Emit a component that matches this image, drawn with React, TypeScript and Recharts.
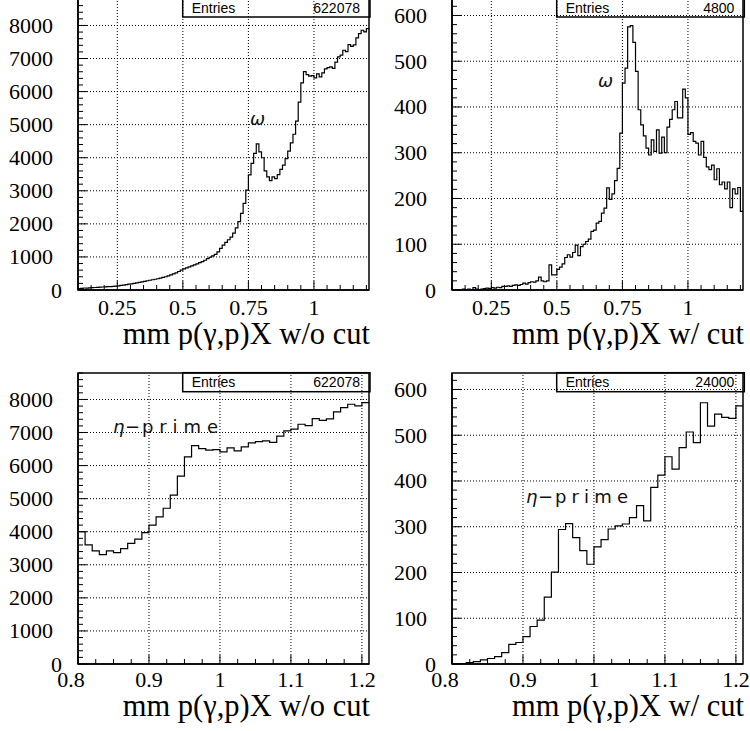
import { LineChart, Line, XAxis, YAxis, ReferenceLine, ReferenceArea } from "recharts";

// histogram binning (bin lower edges), 0.01 wide
const binWidth = 0.01;
const wideStart = 0.1;
const wideEnd = 1.21;
const zoomStart = 0.8;
const zoomEnd = 1.21;

// mm p(gamma,p)X without cut, bins 0.10 .. 0.79
const woCutHead = [
  40, 50, 60, 55, 65, 70, 75, 80, 85, 90,
  95, 100, 105, 110, 115, 125, 140, 150, 165, 175,
  185, 200, 215, 230, 245, 260, 280, 295, 310, 325,
  340, 360, 380, 400, 430, 460, 490, 520, 560, 600,
  640, 670, 700, 730, 760, 790, 830, 860, 900, 950,
  990, 1030, 1080, 1150, 1260, 1360, 1440, 1520, 1600, 1720,
  1880, 2070, 2320, 2620, 3020, 3480, 3830, 4130, 4420, 4180,
];

// same histogram, bins 0.80 .. 1.20
const woCutTail = [
  4000, 3600, 3420, 3310, 3420, 3370, 3490, 3645, 3775, 3970,
  4200, 4450, 4710, 5105, 5680, 6265, 6605, 6515, 6465, 6485,
  6415, 6535, 6445, 6565, 6685, 6725, 6745, 6705, 6890, 7050,
  7100, 7250, 7210, 7420, 7370, 7410, 7625, 7755, 7855, 7805,
  7905,
];

// with cut, bins 0.10 .. 1.20
const wCutWide = [
  0, 1, 0, 1, 2, 1, 2, 1, 5, 2,
  1, 2, 3, 4, 3, 5, 4, 6, 5, 8,
  8, 9, 8, 10, 11, 10, 12, 15, 13, 16,
  18, 17, 20, 28, 20, 18, 20, 55, 33, 33,
  45, 50, 57, 71, 77, 72, 82, 98, 75, 95,
  100, 106, 111, 128, 131, 146, 150, 168, 179, 223,
  198, 210, 239, 266, 343, 452, 485, 575, 578, 541,
  478, 394, 361, 337, 310, 295, 328, 303, 350, 299,
  334, 300, 356, 373, 394, 412, 376, 376, 439, 420,
  340, 344, 325, 321, 295, 325, 290, 269, 263, 273,
  241, 265, 230, 236, 221, 236, 180, 221, 210, 224,
  172,
];

// with cut, eta-prime region, bins 0.80 .. 1.20
const wCutZoom = [
  0, 1, 3, 5, 9, 12, 16, 25, 43, 47,
  60, 82, 96, 146, 201, 294, 307, 276, 248, 218,
  256, 272, 295, 302, 306, 320, 346, 313, 386, 413,
  453, 426, 473, 507, 484, 571, 520, 546, 539, 537,
  564,
];

const wideXMajor = [0.25, 0.5, 0.75, 1];
const zoomXMajor = [0.8, 0.9, 1, 1.1, 1.2];
const countsYMajor = [0, 1000, 2000, 3000, 4000, 5000, 6000, 7000, 8000];
const cutYMajor = [0, 100, 200, 300, 400, 500, 600];

const titleWoCut = "mm p(\u03b3,p)X w/o cut";
const titleWCut = "mm p(\u03b3,p)X w/ cut";

const serif = "'Liberation Serif', 'Times New Roman', serif";
const sans = "'Liberation Sans', Arial, sans-serif";
const thin = "'DejaVu Sans', sans-serif";

const r3 = (v: number) => Math.round(v * 1000) / 1000;

const toRows = (values: number[], start: number) => {
  const rows = values.map((v, i) => ({ x: r3(start + i * binWidth), y: v }));
  rows.push({ x: r3(start + values.length * binWidth), y: values[values.length - 1] });
  return rows;
};

const steps = (from: number, to: number, step: number) => {
  const out: number[] = [];
  for (let v = from; v <= to + 1e-9; v += step) out.push(r3(v));
  return out;
};

const XTick = (props: any) => {
  const { x, y, payload, majors, labelDy, xMin } = props;
  const v = payload.value;
  const major = majors.some((m: number) => Math.abs(m - v) < 1e-6);
  const shift = Math.abs(v - xMin) < 1e-6 ? -7 : 0;
  return (
    <g>
      <line x1={x} y1={y} x2={x} y2={y - (major ? 9 : 5)} stroke="#000" strokeWidth={1} />
      {major ? (
        <text x={x + shift} y={y + labelDy} textAnchor="middle" fontFamily={serif} fontSize={22} fill="#000">
          {String(v)}
        </text>
      ) : null}
    </g>
  );
};

const YTick = (props: any) => {
  const { x, y, payload, majors } = props;
  const v = payload.value;
  const major = majors.includes(v);
  return (
    <g>
      <line x1={x} y1={y} x2={x + (major ? 9 : 5)} y2={y} stroke="#000" strokeWidth={1} />
      {major ? (
        <text x={x - (v === 0 ? 16 : 25)} y={y + 7.5} textAnchor="end" fontFamily={serif} fontSize={22} fill="#000">
          {String(v)}
        </text>
      ) : null}
    </g>
  );
};

interface IPanel {
  values: number[];
  start: number;
  end: number;
  yMax: number;
  xMajor: number[];
  xMinorStep: number;
  yMajor: number[];
  yMinorStep: number;
  title: string;
  labelDy: number;
  titleDy: number;
  left: number;
  top: number;
}

const Panel = ({
  values,
  start,
  end,
  yMax,
  xMajor,
  xMinorStep,
  yMajor,
  yMinorStep,
  title,
  labelDy,
  titleDy,
  left,
  top,
}: IPanel) => {
  const rows = toRows(values, start);
  const xTicks = steps(start, end, xMinorStep);
  const yTicks = steps(0, yMax, yMinorStep);
  const renderTitle = (p: any) => {
    const vb = p.viewBox;
    return (
      <text x={vb.x + vb.width + 1} y={vb.y + titleDy} textAnchor="end" fontFamily={serif} fontSize={30.5} fill="#000">
        {title}
      </text>
    );
  };

  return (
    <div style={{ position: "absolute", left, top }}>
      <LineChart width={375} height={361} data={rows} margin={{ top: 10, right: 6, bottom: 0, left: 8 }}>
        {xMajor
          .filter((v) => v > start + 1e-6)
          .map((v) => (
            <ReferenceLine key={`gx-${v}`} x={v} stroke="#000" strokeWidth={1} strokeDasharray="1 2" />
          ))}
        {yMajor
          .filter((v) => v > 0)
          .map((v) => (
            <ReferenceLine key={`gy-${v}`} y={v} stroke="#000" strokeWidth={1} strokeDasharray="1 2" />
          ))}
        <ReferenceArea x1={start} x2={end} y1={0} y2={yMax} fill="none" stroke="#000" strokeWidth={1.5} />
        <XAxis
          dataKey="x"
          type="number"
          domain={[start, end]}
          allowDataOverflow
          ticks={xTicks}
          interval={0}
          tickLine={false}
          tickSize={0}
          tickMargin={0}
          height={60}
          axisLine={{ stroke: "#000", strokeWidth: 1.5 }}
          tick={<XTick majors={xMajor} labelDy={labelDy} xMin={start} />}
          label={{ content: renderTitle }}
        />
        <YAxis
          type="number"
          domain={[0, yMax]}
          allowDataOverflow
          ticks={yTicks}
          interval={0}
          tickLine={false}
          tickSize={0}
          tickMargin={0}
          width={70}
          axisLine={{ stroke: "#000", strokeWidth: 1.5 }}
          tick={<YTick majors={yMajor} />}
        />
        <Line
          dataKey="y"
          type="stepAfter"
          stroke="#000"
          strokeWidth={1.2}
          dot={false}
          activeDot={false}
          isAnimationActive={false}
        />
      </LineChart>
    </div>
  );
};

const StatBox = ({ x, y, w, h, value, baseline }: any) => (
  <g>
    <rect x={x} y={y} width={w} height={h} fill="none" stroke="#000" strokeWidth={1.5} />
    <text x={x + 9} y={baseline} fontFamily={sans} fontSize={14} fill="#000">
      Entries
    </text>
    <text x={x + w - 10} y={baseline} textAnchor="end" fontFamily={sans} fontSize={14} fill="#000">
      {value}
    </text>
  </g>
);

const EtaPrime = ({ x, y, len }: any) => (
  <g fill="#111" fontFamily={thin} fontSize={18}>
    <text x={x} y={y} fontStyle="italic">
      {"\u03b7"}
    </text>
    <text x={x + 12} y={y}>
      {"\u2212"}
    </text>
    <text x={x + 29} y={y} textLength={len} lengthAdjust="spacing">
      prime
    </text>
  </g>
);

export default function App() {
  const wide = [...woCutHead, ...woCutTail];
  return (
    <div style={{ position: "absolute", left: 0, top: 0, width: 750, height: 731, overflow: "hidden", background: "#fff" }}>
      <Panel values={wide} start={wideStart} end={wideEnd} yMax={8800} xMajor={wideXMajor} xMinorStep={0.05}
        yMajor={countsYMajor} yMinorStep={200} title={titleWoCut} labelDy={25} titleDy={54} left={0} top={-11} />
      <Panel values={wCutWide} start={wideStart} end={wideEnd} yMax={636} xMajor={wideXMajor} xMinorStep={0.05}
        yMajor={cutYMajor} yMinorStep={20} title={titleWCut} labelDy={25} titleDy={54} left={374} top={-11} />
      <Panel values={woCutTail} start={zoomStart} end={zoomEnd} yMax={8800} xMajor={zoomXMajor} xMinorStep={0.025}
        yMajor={countsYMajor} yMinorStep={200} title={titleWoCut} labelDy={23} titleDy={52} left={0} top={363} />
      <Panel values={wCutZoom} start={zoomStart} end={zoomEnd} yMax={636} xMajor={zoomXMajor} xMinorStep={0.025}
        yMajor={cutYMajor} yMinorStep={20} title={titleWCut} labelDy={23} titleDy={52} left={374} top={363} />
      <svg width={750} height={731} style={{ position: "absolute", left: 0, top: 0, pointerEvents: "none" }}>
        <StatBox x={182.7} y={-5} w={187.3} h={22} value="622078" baseline={12.5} />
        <StatBox x={556.7} y={-5} w={187.6} h={22} value="4800" baseline={12.5} />
        <StatBox x={182.7} y={372.7} w={187.3} h={19} value="622078" baseline={387} />
        <StatBox x={556.7} y={372.7} w={187.6} h={19} value="24000" baseline={387} />
        <text x={250} y={125} fontFamily={thin} fontSize={18} fontStyle="italic" fill="#111">
          {"\u03c9"}
        </text>
        <text x={598} y={87} fontFamily={thin} fontSize={18} fontStyle="italic" fill="#111">
          {"\u03c9"}
        </text>
        <EtaPrime x={113} y={433} len={76} />
        <EtaPrime x={526} y={503} len={73} />
      </svg>
    </div>
  );
}
